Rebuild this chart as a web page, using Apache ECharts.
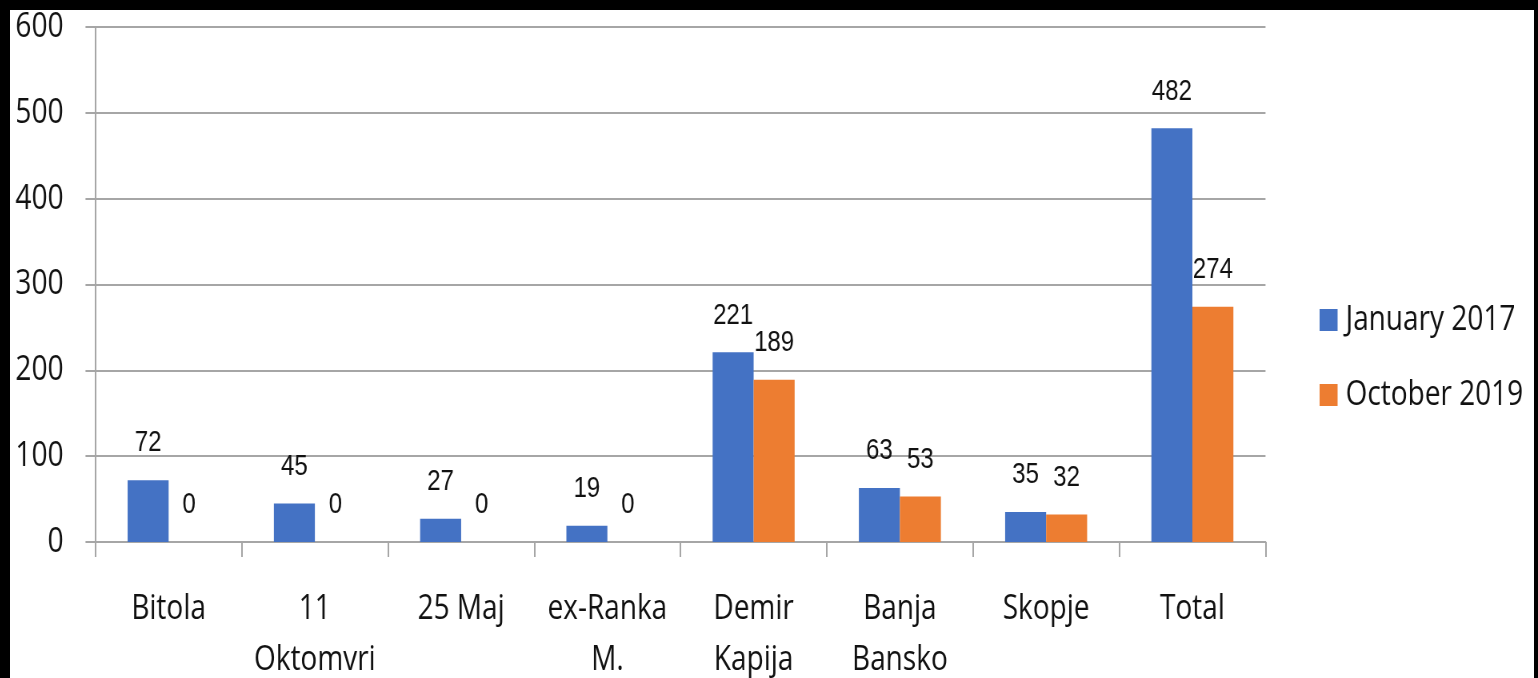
<!DOCTYPE html>
<html>
<head>
<meta charset="utf-8">
<script src="https://cdn.jsdelivr.net/npm/echarts@6/dist/echarts.min.js"></script>
<style>
  html, body { margin: 0; padding: 0; background: #000; width: 1538px; height: 678px; overflow: hidden; }
  #frame { position: absolute; left: 10px; top: 10px; width: 1524px; height: 668px; background: #fff; overflow: hidden; }
  #chart { position: absolute; left: 0; top: 0; width: 1905px; height: 668px; transform: scaleX(0.8); transform-origin: 0 0; }
</style>
</head>
<body>
<div id="frame"><div id="chart"></div></div>
<script>
const categories = ['Bitola', '11\nOktomvri', '25 Maj', 'ex-Ranka\nM.', 'Demir\nKapija', 'Banja\nBansko', 'Skopje', 'Total'];
const january2017 = [72, 45, 27, 19, 221, 63, 35, 482];
const october2019 = [0, 0, 0, 0, 189, 53, 32, 274];
const seriesNames = ['January 2017', 'October 2019'];
const yTicks = [0, 100, 200, 300, 400, 500, 600];

const chart = echarts.init(document.getElementById('chart'), null, { renderer: 'canvas' });
const AXISFONT = '"Open Sans", "Liberation Sans", sans-serif';
const LABELFONT = '"Liberation Sans", Arial, sans-serif';
const gridColor = '#a6a6a6';
const textColor = '#111';

const labelStyle = {
  show: true,
  position: 'top',
  distance: 22,
  fontFamily: LABELFONT,
  fontSize: 30,
  color: textColor
};

chart.setOption({
  animation: false,
  backgroundColor: '#fff',
  grid: { left: 106.9, top: 17, width: 1462.5, height: 515, containLabel: false, outerBoundsMode: 'none' },
  legend: {
    orient: 'vertical',
    left: 1632,
    top: 285,
    itemWidth: 22.5,
    itemHeight: 22,
    itemGap: 35,
    icon: 'rect',
    textStyle: { fontFamily: AXISFONT, fontSize: 35, color: textColor, lineHeight: 40, padding: [0, 0, 0, 5] },
    data: seriesNames
  },
  xAxis: {
    type: 'category',
    data: categories,
    boundaryGap: true,
    axisLine: { show: true, lineStyle: { color: gridColor, width: 2 } },
    axisTick: { show: true, length: 15, lineStyle: { color: gridColor, width: 2 } },
    axisLabel: { interval: 0, margin: 42, fontFamily: AXISFONT, fontSize: 35, lineHeight: 51, color: textColor },
    splitLine: { show: false }
  },
  yAxis: {
    type: 'value',
    min: yTicks[0],
    max: yTicks[yTicks.length - 1],
    interval: 100,
    axisLine: { show: true, lineStyle: { color: gridColor, width: 2 } },
    axisTick: { show: true, length: 12.5, lineStyle: { color: gridColor, width: 2 } },
    axisLabel: { margin: 40, fontFamily: AXISFONT, fontSize: 35, color: textColor },
    splitLine: { show: true, lineStyle: { color: gridColor, width: 2 } }
  },
  series: [
    {
      name: seriesNames[0],
      type: 'bar',
      data: january2017,
      barWidth: 51.25,
      barGap: '0%',
      itemStyle: { color: '#4472C4' },
      label: labelStyle
    },
    {
      name: seriesNames[1],
      type: 'bar',
      data: october2019,
      barWidth: 51.25,
      barGap: '0%',
      itemStyle: { color: '#ED7D31' },
      label: labelStyle
    }
  ]
});
</script>
</body>
</html>
